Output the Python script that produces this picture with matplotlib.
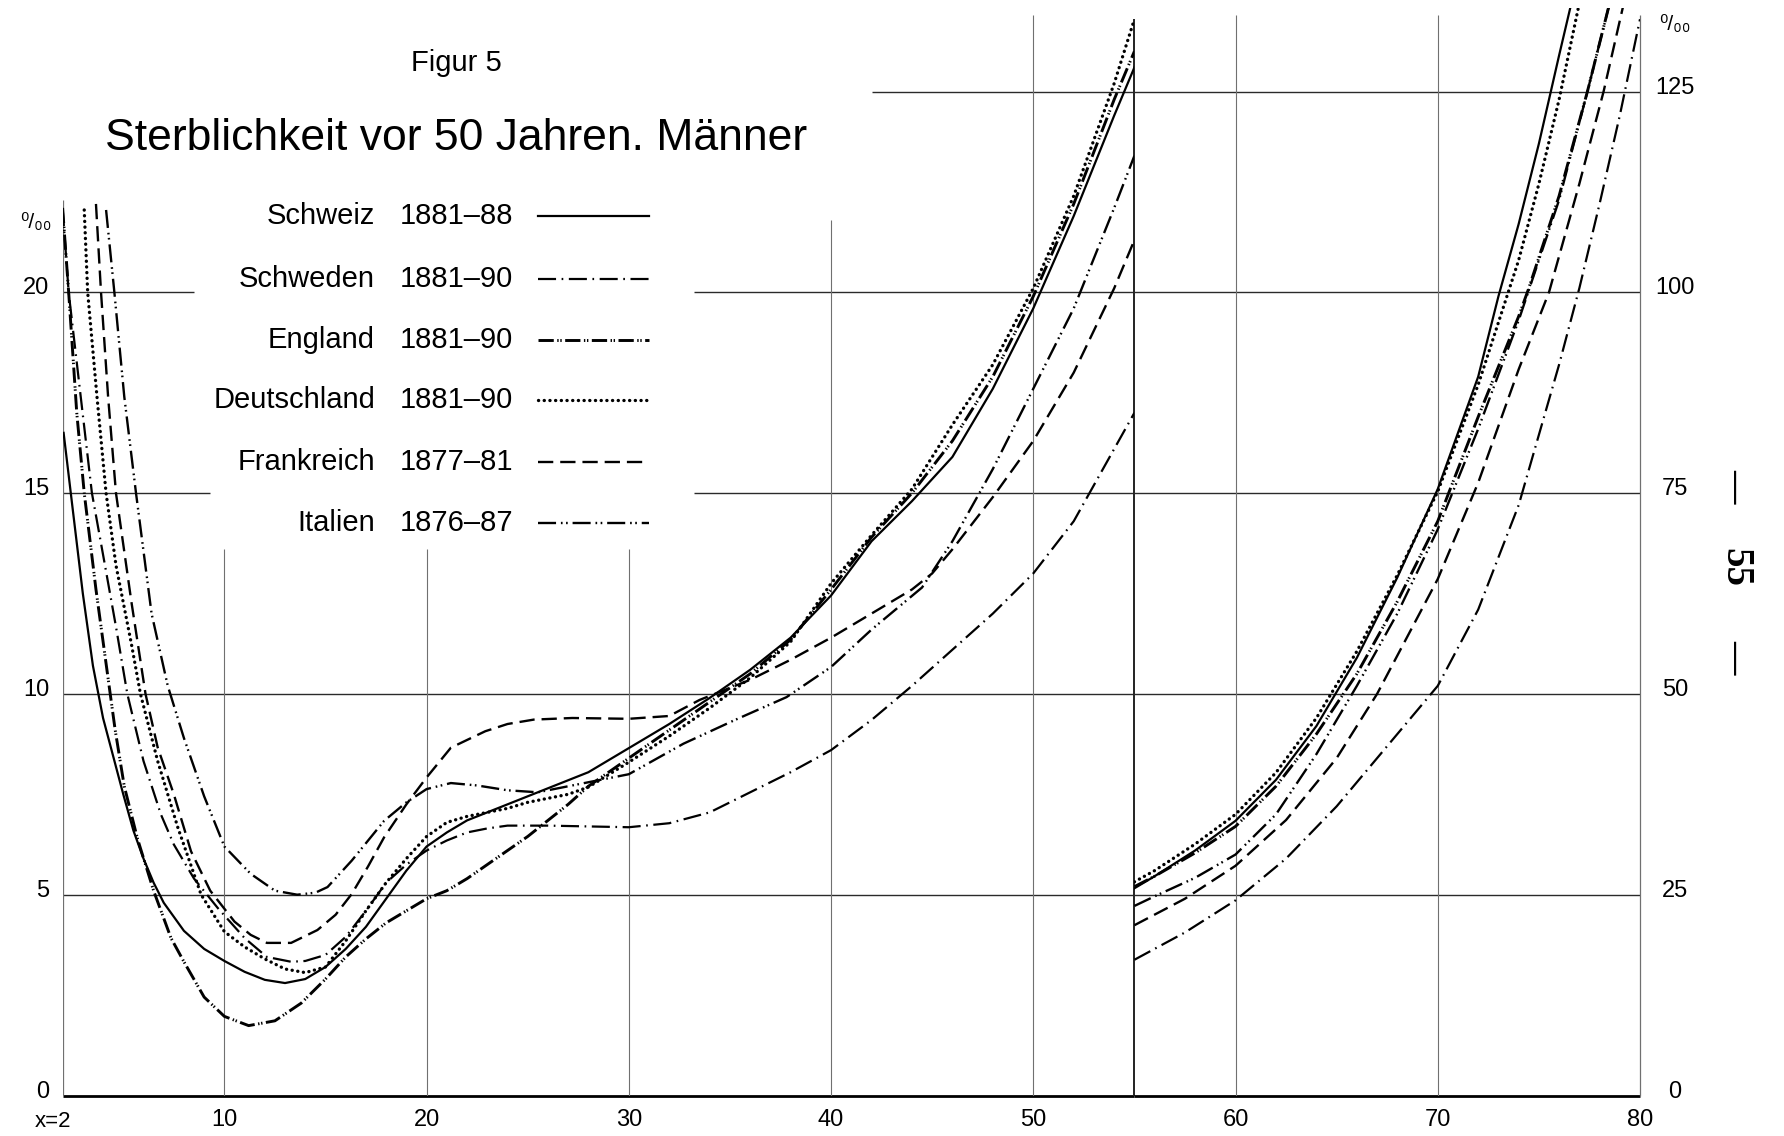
import matplotlib
matplotlib.use("Agg")
import matplotlib.pyplot as plt
from matplotlib.lines import Line2D

plt.rcParams['lines.scale_dashes'] = False
SANS = ['Liberation Sans', 'DejaVu Sans']
plt.rcParams['font.family'] = SANS

# ---- data: mortality per mille, ages 2-55 (left scale) ----
schweiz_age = [2.05, 2.5, 3, 3.5, 4, 4.5, 5, 5.5, 6, 6.5, 7, 8, 9, 10, 11, 12, 13, 14, 15, 16, 17, 18, 19,
               20, 21, 22, 23, 24, 25, 26, 27, 28, 30, 32, 34, 36, 38, 40, 42, 44, 46, 48, 50, 52, 54, 55]
schweiz_val = [16.5, 14.6, 12.5, 10.7, 9.4, 8.45, 7.5, 6.6, 5.9, 5.3, 4.8, 4.1, 3.65, 3.35, 3.08, 2.88, 2.8,
               2.9, 3.2, 3.65, 4.2, 4.9, 5.6, 6.2, 6.55, 6.85, 7.05, 7.25, 7.45, 7.65, 7.85, 8.05, 8.65,
               9.25, 9.9, 10.6, 11.4, 12.45, 13.8, 14.8, 15.9, 17.6, 19.6, 21.9, 24.4, 25.6]

schweden_age = [2, 2.3, 2.85, 3.45, 4.06, 4.64, 5.2, 6, 6.86, 7.5, 8.5, 9.67, 11, 12.1, 13.3, 14, 15, 16,
                17, 18, 19, 20, 21, 22, 23, 24, 26, 28, 30, 32, 34, 36, 38, 40, 42, 44, 46, 48, 50, 52, 54, 55]
schweden_val = [22.1, 20.0, 17.6, 15.0, 13.3, 11.67, 10.0, 8.33, 7.0, 6.25, 5.4, 4.67, 3.92, 3.45, 3.33,
                3.35, 3.5, 3.95, 4.6, 5.3, 5.75, 6.1, 6.35, 6.55, 6.65, 6.72, 6.72, 6.7, 6.68, 6.78, 7.05,
                7.55, 8.05, 8.6, 9.35, 10.2, 11.1, 12.0, 13.0, 14.3, 16.1, 17.0]

england_age = [2, 2.3, 2.7, 3.07, 3.65, 4.3, 4.6, 5.05, 5.7, 6.5, 7.36, 8, 9, 10, 11.2, 12.5, 13.8,
               15, 16, 17, 18, 19, 20, 21, 22, 23, 24, 25, 26, 27, 28, 30, 32, 34, 36, 38, 40, 42, 44,
               46, 48, 50, 52, 54, 55]
england_val = [22.1, 20.0, 17.0, 15.0, 12.6, 10.2, 9.1, 7.7, 6.4, 5.1, 3.92, 3.33, 2.45, 1.97, 1.74,
               1.86, 2.3, 2.9, 3.45, 3.9, 4.3, 4.6, 4.9, 5.1, 5.4, 5.75, 6.1, 6.45, 6.85, 7.25, 7.7, 8.4,
               9.1, 9.8, 10.5, 11.35, 12.6, 13.9, 15.0, 16.3, 17.9, 19.9, 22.2, 24.8, 26.0]

deutsch_age = [3.07, 3.24, 3.7, 4.15, 4.64, 5.4, 5.85, 6.7, 7.7, 8.85, 10, 11, 12, 13, 14, 15, 16, 17, 18,
               19, 20, 21, 22, 23, 24, 25, 26, 27, 28, 30, 32, 34, 36, 38, 40, 42, 44, 46, 48, 50, 52, 54, 55]
deutsch_val = [22.05, 20.0, 17.4, 15.0, 13.2, 11.25, 10.0, 8.33, 6.67, 5.0, 4.08, 3.7, 3.4, 3.15, 3.06, 3.2,
               3.85, 4.6, 5.3, 5.9, 6.45, 6.8, 6.95, 7.05, 7.15, 7.3, 7.4, 7.5, 7.68, 8.3, 8.95, 9.65,
               10.4, 11.3, 12.75, 13.95, 15.1, 16.7, 18.2, 20.1, 22.4, 25.2, 26.8]

frank_age = [3.65, 3.9, 4.25, 4.64, 5.4, 6.1, 6.7, 7.5, 8.35, 9.3, 10.5, 11.3, 12.1, 13.3, 14.6, 15.5, 16.3,
             17.1, 17.9, 19, 20, 21.2, 22.9, 24, 25.3, 27.2, 30, 32, 33.5, 35, 36, 38, 40, 42, 44, 45,
             46, 48, 50, 52, 54, 55]
frank_val = [22.2, 20.0, 17.4, 15.0, 12.3, 10.0, 8.67, 7.5, 6.08, 5.1, 4.33, 4.0, 3.8, 3.8, 4.12, 4.5,
             5.02, 5.7, 6.43, 7.25, 7.92, 8.66, 9.07, 9.25, 9.36, 9.4, 9.38, 9.45, 9.85, 10.15, 10.35,
             10.85, 11.4, 12.0, 12.6, 13.0, 13.6, 14.9, 16.3, 18.0, 20.1, 21.3]

italien_age = [4.15, 4.56, 5.05, 5.63, 6.4, 7.2, 8, 9, 10, 11.3, 12.5, 13.6, 14.5, 15.1, 16.3, 17.9, 19,
               20, 21.2, 22.5, 24, 25.5, 27, 28, 30, 32.7, 35.2, 37.8, 40, 42, 44.5, 46, 48, 50, 52, 54, 55]
italien_val = [22.05, 20.0, 17.4, 15.0, 12.0, 10.2, 8.9, 7.45, 6.2, 5.52, 5.1, 5.0, 5.05, 5.19, 5.85, 6.84,
               7.3, 7.63, 7.78, 7.72, 7.6, 7.55, 7.7, 7.8, 8.0, 8.76, 9.34, 9.92, 10.67, 11.6, 12.65,
               13.8, 15.6, 17.6, 19.6, 22.1, 23.4]

# ---- ages 55-80 (right scale, 5x compressed) ----
schweiz_age_hi = [55, 56, 58, 60, 62, 64, 66, 68, 70, 72, 73, 74, 75, 76, 76.7]
schweiz_val_hi = [25.8, 27.3, 30.5, 34.2, 39.3, 46.0, 54.5, 64.5, 75.5, 89.5, 99.5, 108.5, 118.5, 129.5, 137]
schweden_age_hi = [55, 57.5, 60, 62.5, 65, 67.5, 70, 72, 74, 76, 77, 78, 79, 80]
schweden_val_hi = [16.9, 20.3, 24.3, 29.5, 36.0, 43.5, 51.0, 60.5, 73.5, 91.0, 100.5, 111.0, 122.0, 134.0]
england_age_hi = [55, 56, 58, 60, 62, 64, 66, 68, 70, 72, 74, 74.5, 76, 77.4, 78.5]
england_val_hi = [26.0, 27.3, 30.2, 33.5, 38.5, 45.0, 52.5, 61.5, 71.5, 84.5, 97.0, 100.5, 112.0, 125.0, 136.0]
deutsch_age_hi = [55, 56, 58, 60, 62, 64, 66, 68, 70, 72, 74, 75, 76, 77]
deutsch_val_hi = [26.6, 28.0, 31.3, 35.0, 40.2, 47.0, 55.3, 64.8, 75.2, 88.5, 104.0, 113.5, 124.0, 136.0]
frank_age_hi = [55, 57.5, 60, 62.5, 65, 67, 70, 72, 74, 75.5, 77, 78.2, 79.2]
frank_val_hi = [21.2, 24.5, 28.6, 34.3, 42.0, 50.0, 64.3, 76.3, 90.4, 100.0, 113.5, 125.0, 136.0]
italien_age_hi = [55, 56, 58, 60, 62, 64, 66, 68, 70, 72, 74, 75, 76, 77.4, 78.5]
italien_val_hi = [23.6, 24.8, 27.1, 30.0, 35.0, 42.5, 51.0, 60.0, 70.5, 83.0, 96.5, 104.0, 111.5, 125.0, 136.0]

names = ['Schweiz', 'Schweden', 'England', 'Deutschland', 'Frankreich', 'Italien']
periods = ['1881–88', '1881–90', '1881–90', '1881–90', '1877–81', '1876–87']

left_ticks = [0, 5, 10, 15, 20]
right_ticks = [0, 25, 50, 75, 100, 125]
x_ticks = [10, 20, 30, 40, 50, 60, 70, 80]

# line styles (dash lengths in points)
styles = {
    'Schweiz': dict(ls='-', lw=1.6),
    'Schweden': dict(ls=(0, (13, 4, 1.2, 4)), lw=1.6),
    'England': dict(ls=(0, (11, 2.5, 1, 1.2, 1, 2.5)), lw=2.1),
    'Deutschland': dict(ls=(0, (0.1, 4.0)), lw=2.4, dash_capstyle='round'),
    'Frankreich': dict(ls=(0, (11, 5)), lw=1.7),
    'Italien': dict(ls=(0, (13, 3.5, 1.2, 2.5, 1.2, 3.5)), lw=1.7),
}

W, H = 1784, 1136
def fx(px):
    return px / W
def fy(py):
    return 1 - py / H

fig = plt.figure(figsize=(W / 100, H / 100), dpi=100, facecolor='white')

x2_px, x55_px, x80_px = 62.6, 1134.4, 1640.0
y0_px, ytop_px = 1095.5, 8.0
ytop = (y0_px - ytop_px) / 40.16

ax_l = fig.add_axes([fx(x2_px), fy(y0_px), fx(x55_px) - fx(x2_px), fy(ytop_px) - fy(y0_px)])
ax_r = fig.add_axes([fx(x55_px), fy(y0_px), fx(x80_px) - fx(x55_px), fy(ytop_px) - fy(y0_px)])
ax_l.set_xlim(2, 55)
ax_l.set_ylim(0, ytop)
ax_r.set_xlim(55, 80)
ax_r.set_ylim(0, 5 * ytop)
for ax in (ax_l, ax_r):
    ax.axis('off')

gc_h = '#2a2a2a'
gc_v = '#707070'

# horizontal grid (pieces left open where title / legend sit)
ax_l.hlines([5, 10], 2, 55, color=gc_h, lw=1.0)
ax_l.hlines([15, 15], [2, 33.2], [9.3, 55], color=gc_h, lw=1.0)
ax_l.hlines([20, 20], [2, 33.2], [8.5, 55], color=gc_h, lw=1.0)
ax_l.hlines([25], 42, 55, color=gc_h, lw=1.0)
ax_r.hlines([25, 50, 75, 100, 125], 55, 80, color=gc_h, lw=1.0)
ax_l.hlines([0], 2, 55, color='black', lw=2.0, clip_on=False)
ax_r.hlines([0], 55, 80, color='black', lw=2.0, clip_on=False)

# vertical grid
ax_l.vlines([10, 20, 30], 0, 13.6, color=gc_v, lw=0.8)
ax_l.vlines([40], 0, 21.8, color=gc_v, lw=0.8)
ax_l.vlines([50], 0, 26.9, color=gc_v, lw=0.8)
ax_l.vlines([2], 0, 22.3, color=gc_v, lw=0.9)
ax_l.vlines([55], 0, 26.8, color='#222222', lw=1.4, clip_on=False)
ax_r.vlines([60, 70], 0, 5 * 26.9, color=gc_v, lw=0.8)
ax_r.vlines([80], 0, 5 * 26.9, color=gc_v, lw=0.9, clip_on=False)

lo = {
    'Schweiz': (schweiz_age, schweiz_val),
    'Schweden': (schweden_age, schweden_val),
    'England': (england_age, england_val),
    'Deutschland': (deutsch_age, deutsch_val),
    'Frankreich': (frank_age, frank_val),
    'Italien': (italien_age, italien_val),
}
hi = {
    'Schweiz': (schweiz_age_hi, schweiz_val_hi),
    'Schweden': (schweden_age_hi, schweden_val_hi),
    'England': (england_age_hi, england_val_hi),
    'Deutschland': (deutsch_age_hi, deutsch_val_hi),
    'Frankreich': (frank_age_hi, frank_val_hi),
    'Italien': (italien_age_hi, italien_val_hi),
}

for n in names:
    st = styles[n]
    kw = dict(color='black', linestyle=st['ls'], linewidth=st['lw'])
    if 'dash_capstyle' in st:
        kw['dash_capstyle'] = st['dash_capstyle']
    a, v = lo[n]
    ax_l.plot(a, v, **kw)
    a, v = hi[n]
    ax_r.plot(a, v, **kw)

# axis labels
tick_fs = 17
for t in left_ticks:
    ax_l.annotate(str(t), xy=(2, t), xytext=(-13, 4), textcoords='offset pixels',
                  ha='right', va='center', fontsize=tick_fs)
for t in right_ticks:
    ax_r.annotate(str(t), xy=(80, t), xytext=(35, 4), textcoords='offset pixels',
                  ha='center', va='center', fontsize=tick_fs)
for t in x_ticks:
    ax = ax_l if t <= 55 else ax_r
    ax.annotate(str(t), xy=(t, 0), xytext=(0, -24), textcoords='offset pixels',
                ha='center', va='center', fontsize=tick_fs)
ax_l.annotate('x=2', xy=(2, 0), xytext=(-10, -26), textcoords='offset pixels',
              ha='center', va='center', fontsize=tick_fs - 1)
fig.text(fx(36), fy(222), '⁰/₀₀', ha='center', va='center', fontsize=15,
         family=SANS)
fig.text(fx(1675), fy(25), '⁰/₀₀', ha='center', va='center', fontsize=15,
         family=SANS)

# title
fig.text(fx(456), fy(63), 'Figur 5', ha='center', va='center', fontsize=21)
fig.text(fx(456), fy(139), 'Sterblichkeit vor 50 Jahren. Männer', ha='center', va='center',
         fontsize=32)

# legend
leg_rows = [216, 279, 340, 400, 462, 523]
for n, p, yy in zip(names, periods, leg_rows):
    fig.text(fx(375), fy(yy), n, ha='right', va='center', fontsize=21)
    fig.text(fx(400), fy(yy), p, ha='left', va='center', fontsize=21)
    st = styles[n]
    ln = Line2D([fx(538), fx(649)], [fy(yy), fy(yy)], transform=fig.transFigure,
                color='black', linestyle=st['ls'], linewidth=st['lw'],
                dash_capstyle=st.get('dash_capstyle', 'butt'))
    fig.add_artist(ln)

# page number, printed sideways
pg = dict(rotation=-90, ha='center', va='center',
          family=['Liberation Serif', 'DejaVu Serif'], fontweight='bold')
fig.text(fx(1735), fy(486), '—', fontsize=24, **pg)
fig.text(fx(1735), fy(567), '55', fontsize=28, **pg)
fig.text(fx(1735), fy(657), '—', fontsize=24, **pg)

fig.savefig('out.png', dpi=100, facecolor='white')
